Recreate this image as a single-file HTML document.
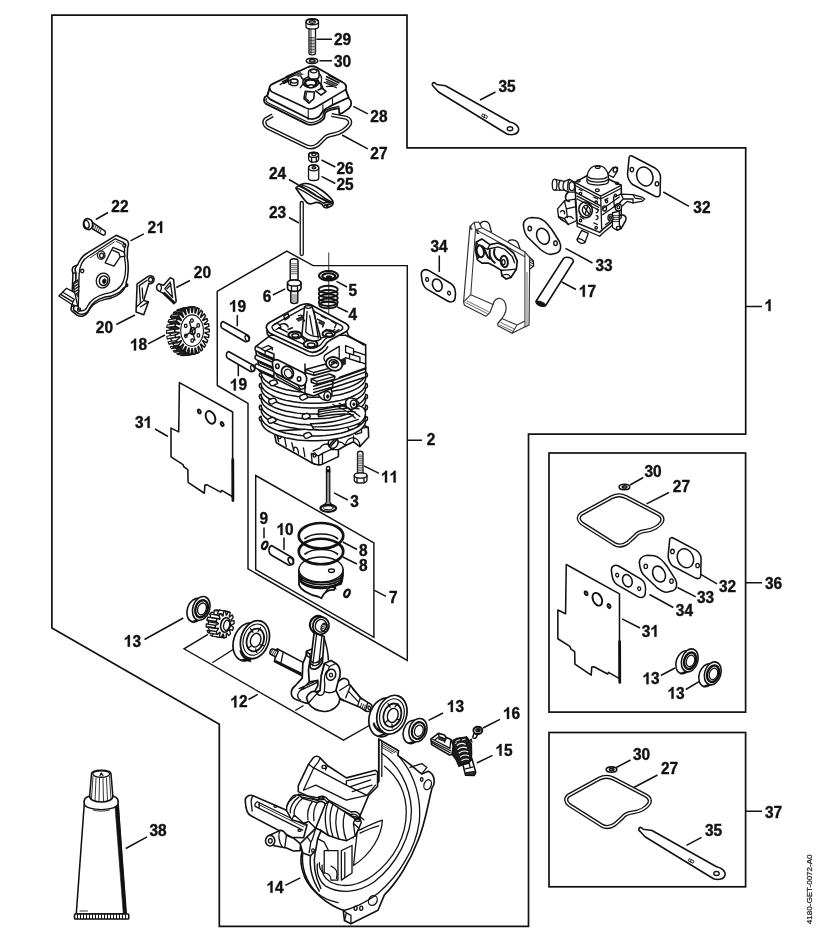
<!DOCTYPE html>
<html><head><meta charset="utf-8"><title>Parts diagram</title>
<style>
html,body{margin:0;padding:0;background:#fff;}
svg{display:block;filter:grayscale(1);}
.f{fill:none;stroke:#111;stroke-width:1.7;stroke-linejoin:miter;}
.l{fill:none;stroke:#111;stroke-width:1.5;stroke-linecap:butt;}
.t{fill:none;stroke:#222;stroke-width:0.9;}
.p{fill:none;stroke:#111;stroke-width:1.3;stroke-linejoin:round;stroke-linecap:round;}
.pw{fill:#fff;stroke:#111;stroke-width:1.3;stroke-linejoin:round;stroke-linecap:round;}
.pb{fill:#111;stroke:#111;stroke-width:0.8;stroke-linejoin:round;}
#parts *{vector-effect:non-scaling-stroke;}
.h{fill:none;stroke:#111;stroke-width:0.85;stroke-linejoin:round;stroke-linecap:round;}
.g{fill:none;stroke:#777;stroke-width:0.7;}
text{font-family:"Liberation Sans",sans-serif;font-weight:bold;font-size:16.2px;fill:#111;stroke:#111;stroke-width:0.4px;}
text.s{stroke:#222;stroke-width:0.25px;font-weight:normal;font-size:8px;fill:#222;}
</style></head><body>
<svg width="816" height="928" viewBox="0 0 816 928">
<rect width="816" height="928" fill="#fff"/>
<!-- FRAMES -->
<g id="frames">
<path class="f" d="M51.9,15.2 H407 V147.8 H745.7 V434.2 H528.5 V926.3 H219.3 V724.3 L51.9,628.1 Z"/>
<path class="f" style="stroke-width:1.45" d="M217.2,291.3 L286.8,251.2 L313.1,265.6 H407.3 V660.4 L248,568.9 V403.3 L217.3,385.5 Z"/>
<path class="f" style="stroke-width:1.45" d="M255.7,475.5 L373.9,542.8 V637.3 L255.7,569.6 Z"/>
<rect class="f" x="549" y="453" width="196.6" height="259.1"/>
<rect class="f" x="549" y="732.5" width="196.6" height="154.3"/>
<path class="l" d="M746,306.5 H762 M407,440.3 H422 M374.5,590.3 L386,596.3 M746,582.7 H762 M746,811.2 H762"/>
</g>
<!-- LEADERS -->
<g id="leaders" class="l">
<path d="M316.5,39.3 H332 M319.5,60.8 H332 M353.3,106.3 L367.8,113.8 M342,135 L367.8,148.8 M321.5,160 L335.3,167 M321.5,176.3 L335.3,183.5 M289,179.5 L298.5,185 M289,217.5 L299,223"/>
<path d="M95.8,219.5 L108,212.5 M130.5,240.8 L143.8,233.8 M176.3,287.5 L190,280.5 M116.3,324.5 L135,315 M148,343.8 L165,335"/>
<path d="M272.8,295 L285.3,288.8 M336.5,281.3 L347,287 M337.3,307 L347.8,312 M237.3,315 V326.3 M238.3,364.5 V376.3"/>
<path d="M480,100 L495.5,92 M663.3,192 L689,206.3 M565.5,248.3 L592.5,263 M561.8,282 L576,289.5 M439.3,255.5 V272"/>
<path d="M155,429 L168,436.5 M364,465.8 L379,473.3 M334,492.8 L347.8,500 M264,527.5 V538.3 M284,537.5 V550 M342.8,542 L357,549.5 M342.8,557 L357,564"/>
<path d="M144.5,639.5 L183.3,618 M248.5,699.5 L257.8,694.3 M285.3,885.3 L300.3,877.8 M428.5,720.3 L443,713 M483,728 L500,719.3 M476.8,763 L492.5,755.3 M125.8,848.5 L147,836.8"/>
<path d="M630,485 L643.3,477.5 M646.5,503.8 L669,492.5 M700.8,574.3 L717,583.8 M677.5,587.5 L695.8,596.8 M649.5,594.5 L673.3,607.5"/>
<path d="M622,618.8 L640,628 M660.8,675.5 L675,668 M685.8,689.5 L699.5,681.3 M616.3,767.5 L630.5,760 M633.8,787.5 L657.5,775 M686.5,845.3 L701.5,837.3"/>
</g>
<!-- LABELS -->
<g id="labels">
<text transform="translate(334,45.4) scale(.955,1)">29</text><text transform="translate(334,67.4) scale(.955,1)">30</text><text transform="translate(370.3,122.4) scale(.955,1)">28</text><text transform="translate(370.3,159.2) scale(.955,1)">27</text>
<text transform="translate(336.5,173.7) scale(.955,1)">26</text><text transform="translate(336.5,189.7) scale(.955,1)">25</text><text transform="translate(269,179.2) scale(.955,1)">24</text><text transform="translate(269,217.9) scale(.955,1)">23</text>
<text transform="translate(111.3,211.7) scale(.955,1)">22</text><g transform="translate(147.5,232.9) scale(.955,1)"><text x="0.00" y="0">2</text><path transform="translate(9.01,0) scale(0.01620,-0.01620)" d="M393 0 H255 V518 Q176 443 68 407 V532 Q125 551 192 603 Q259 655 284 724 H393 Z" style="fill:#111;stroke:#111;stroke-width:18"/></g><text transform="translate(193.8,278.4) scale(.955,1)">20</text><text transform="translate(95.8,332.9) scale(.955,1)">20</text><g transform="translate(130,350.4) scale(.955,1)"><path transform="translate(0.00,0) scale(0.01620,-0.01620)" d="M393 0 H255 V518 Q176 443 68 407 V532 Q125 551 192 603 Q259 655 284 724 H393 Z" style="fill:#111;stroke:#111;stroke-width:18"/><text x="9.01" y="0">8</text></g>
<text transform="translate(262.8,301.7) scale(.955,1)">6</text><text transform="translate(348.5,295.5) scale(.955,1)">5</text><text transform="translate(348.5,319.8) scale(.955,1)">4</text><g transform="translate(229,311.7) scale(.955,1)"><path transform="translate(0.00,0) scale(0.01620,-0.01620)" d="M393 0 H255 V518 Q176 443 68 407 V532 Q125 551 192 603 Q259 655 284 724 H393 Z" style="fill:#111;stroke:#111;stroke-width:18"/><text x="9.01" y="0">9</text></g><g transform="translate(229.8,390.4) scale(.955,1)"><path transform="translate(0.00,0) scale(0.01620,-0.01620)" d="M393 0 H255 V518 Q176 443 68 407 V532 Q125 551 192 603 Q259 655 284 724 H393 Z" style="fill:#111;stroke:#111;stroke-width:18"/><text x="9.01" y="0">9</text></g>
<text transform="translate(498.5,91.7) scale(.955,1)">35</text><text transform="translate(693.3,212.9) scale(.955,1)">32</text><g transform="translate(764.5,311.1) scale(.955,1)"><path transform="translate(0.00,0) scale(0.01620,-0.01620)" d="M393 0 H255 V518 Q176 443 68 407 V532 Q125 551 192 603 Q259 655 284 724 H393 Z" style="fill:#111;stroke:#111;stroke-width:18"/></g><text transform="translate(595.5,270.9) scale(.955,1)">33</text><g transform="translate(578.8,296.7) scale(.955,1)"><path transform="translate(0.00,0) scale(0.01620,-0.01620)" d="M393 0 H255 V518 Q176 443 68 407 V532 Q125 551 192 603 Q259 655 284 724 H393 Z" style="fill:#111;stroke:#111;stroke-width:18"/><text x="9.01" y="0">7</text></g><text transform="translate(430.5,251.7) scale(.955,1)">34</text>
<g transform="translate(135,427.9) scale(.955,1)"><text x="0.00" y="0">3</text><path transform="translate(9.01,0) scale(0.01620,-0.01620)" d="M393 0 H255 V518 Q176 443 68 407 V532 Q125 551 192 603 Q259 655 284 724 H393 Z" style="fill:#111;stroke:#111;stroke-width:18"/></g><g transform="translate(381,482.4) scale(.955,1)"><path transform="translate(0.00,0) scale(0.01620,-0.01620)" d="M393 0 H255 V518 Q176 443 68 407 V532 Q125 551 192 603 Q259 655 284 724 H393 Z" style="fill:#111;stroke:#111;stroke-width:18"/><path transform="translate(9.01,0) scale(0.01620,-0.01620)" d="M393 0 H255 V518 Q176 443 68 407 V532 Q125 551 192 603 Q259 655 284 724 H393 Z" style="fill:#111;stroke:#111;stroke-width:18"/></g><text transform="translate(350.3,506.9) scale(.955,1)">3</text><text transform="translate(259.5,524.4) scale(.955,1)">9</text><g transform="translate(276.5,534.9) scale(.955,1)"><path transform="translate(0.00,0) scale(0.01620,-0.01620)" d="M393 0 H255 V518 Q176 443 68 407 V532 Q125 551 192 603 Q259 655 284 724 H393 Z" style="fill:#111;stroke:#111;stroke-width:18"/><text x="9.01" y="0">0</text></g><text transform="translate(359,556.2) scale(.955,1)">8</text><text transform="translate(359,570.7) scale(.955,1)">8</text><text transform="translate(389,602.9) scale(.955,1)">7</text>
<text transform="translate(426.8,444.7) scale(.955,1)">2</text>
<g transform="translate(123.8,646.7) scale(.955,1)"><path transform="translate(0.00,0) scale(0.01620,-0.01620)" d="M393 0 H255 V518 Q176 443 68 407 V532 Q125 551 192 603 Q259 655 284 724 H393 Z" style="fill:#111;stroke:#111;stroke-width:18"/><text x="9.01" y="0">3</text></g><g transform="translate(230.3,707.4) scale(.955,1)"><path transform="translate(0.00,0) scale(0.01620,-0.01620)" d="M393 0 H255 V518 Q176 443 68 407 V532 Q125 551 192 603 Q259 655 284 724 H393 Z" style="fill:#111;stroke:#111;stroke-width:18"/><text x="9.01" y="0">2</text></g><g transform="translate(266.5,892.7) scale(.955,1)"><path transform="translate(0.00,0) scale(0.01620,-0.01620)" d="M393 0 H255 V518 Q176 443 68 407 V532 Q125 551 192 603 Q259 655 284 724 H393 Z" style="fill:#111;stroke:#111;stroke-width:18"/><text x="9.01" y="0">4</text></g><g transform="translate(446.8,711.9) scale(.955,1)"><path transform="translate(0.00,0) scale(0.01620,-0.01620)" d="M393 0 H255 V518 Q176 443 68 407 V532 Q125 551 192 603 Q259 655 284 724 H393 Z" style="fill:#111;stroke:#111;stroke-width:18"/><text x="9.01" y="0">3</text></g><g transform="translate(503,718.9) scale(.955,1)"><path transform="translate(0.00,0) scale(0.01620,-0.01620)" d="M393 0 H255 V518 Q176 443 68 407 V532 Q125 551 192 603 Q259 655 284 724 H393 Z" style="fill:#111;stroke:#111;stroke-width:18"/><text x="9.01" y="0">6</text></g><g transform="translate(495.5,755.7) scale(.955,1)"><path transform="translate(0.00,0) scale(0.01620,-0.01620)" d="M393 0 H255 V518 Q176 443 68 407 V532 Q125 551 192 603 Q259 655 284 724 H393 Z" style="fill:#111;stroke:#111;stroke-width:18"/><text x="9.01" y="0">5</text></g><text transform="translate(149.5,835.7) scale(.955,1)">38</text>
<text transform="translate(644.5,476.7) scale(.955,1)">30</text><text transform="translate(672.8,491.7) scale(.955,1)">27</text><text transform="translate(719,591.7) scale(.955,1)">32</text><text transform="translate(697,603.4) scale(.955,1)">33</text><text transform="translate(675.8,615.9) scale(.955,1)">34</text><text transform="translate(765,589.3) scale(.955,1)">36</text>
<g transform="translate(641.8,636.7) scale(.955,1)"><text x="0.00" y="0">3</text><path transform="translate(9.01,0) scale(0.01620,-0.01620)" d="M393 0 H255 V518 Q176 443 68 407 V532 Q125 551 192 603 Q259 655 284 724 H393 Z" style="fill:#111;stroke:#111;stroke-width:18"/></g><g transform="translate(642.5,684.2) scale(.955,1)"><path transform="translate(0.00,0) scale(0.01620,-0.01620)" d="M393 0 H255 V518 Q176 443 68 407 V532 Q125 551 192 603 Q259 655 284 724 H393 Z" style="fill:#111;stroke:#111;stroke-width:18"/><text x="9.01" y="0">3</text></g><g transform="translate(667.5,698.7) scale(.955,1)"><path transform="translate(0.00,0) scale(0.01620,-0.01620)" d="M393 0 H255 V518 Q176 443 68 407 V532 Q125 551 192 603 Q259 655 284 724 H393 Z" style="fill:#111;stroke:#111;stroke-width:18"/><text x="9.01" y="0">3</text></g><text transform="translate(633,759.9) scale(.955,1)">30</text><text transform="translate(661,774.4) scale(.955,1)">27</text><text transform="translate(705,835.9) scale(.955,1)">35</text><text transform="translate(765,818) scale(.955,1)">37</text>
<text class="s" transform="translate(812.2,924.2) rotate(-90)" textLength="69.8" lengthAdjust="spacingAndGlyphs">4180-GET-0072-A0</text>
</g>
<!-- PARTS -->
<g id="parts">
<!--PARTS_BEGIN-->
<g transform="translate(560,460) scale(0.2206)">
<path class="p" style="stroke-width:4.2" d="M95,245 C80,258 82,275 100,288 L245,380 C265,392 290,388 310,372 L340,345 C350,330 365,325 385,322 C420,318 450,300 462,280 C468,265 460,252 445,244 L300,168 C280,158 255,158 235,168 Z"/>
<path style="fill:none;stroke:#fff;stroke-width:1.5" d="M95,245 C80,258 82,275 100,288 L245,380 C265,392 290,388 310,372 L340,345 C350,330 365,325 385,322 C420,318 450,300 462,280 C468,265 460,252 445,244 L300,168 C280,158 255,158 235,168 Z"/>

</g>
<g transform="translate(-12.6,281.5)"><g transform="translate(560,460) scale(0.2206)">
<path class="p" style="stroke-width:4.2" d="M95,245 C80,258 82,275 100,288 L245,380 C265,392 290,388 310,372 L340,345 C350,330 365,325 385,322 C420,318 450,300 462,280 C468,265 460,252 445,244 L300,168 C280,158 255,158 235,168 Z"/>
<path style="fill:none;stroke:#fff;stroke-width:1.5" d="M95,245 C80,258 82,275 100,288 L245,380 C265,392 290,388 310,372 L340,345 C350,330 365,325 385,322 C420,318 450,300 462,280 C468,265 460,252 445,244 L300,168 C280,158 255,158 235,168 Z"/>

</g></g>
<g transform="translate(258,62) scale(0.12255)">
<!-- main gasket 27 -->
<path class="p" style="stroke-width:4.2;stroke-linecap:butt" d="M120,435 L62,468 C42,488 52,520 80,535 L400,690 C430,702 462,696 490,675 L545,620 C560,600 590,595 620,590 C670,585 730,540 750,505 C757,480 742,465 720,455 L600,432"/>
<path style="fill:none;stroke:#fff;stroke-width:1.5" d="M120,435 L62,468 C42,488 52,520 80,535 L400,690 C430,702 462,696 490,675 L545,620 C560,600 590,595 620,590 C670,585 730,540 750,505 C757,480 742,465 720,455 L600,432"/>
<!-- flange -->
<path class="pw" style="stroke-width:1.8" d="M75,275 C45,285 40,320 62,340 L395,505 C430,520 470,510 505,490 L540,462 L548,415 C560,400 580,392 600,388 L660,376 L664,425 L690,415 L745,375 C768,350 765,315 740,295 L715,225 L440,40 L95,215 Z"/>
<path class="p" style="stroke-width:1.2" d="M70,300 C60,310 64,322 78,330 L398,488 C430,500 465,492 495,475 L528,450 L536,408 C550,392 572,382 596,376 L660,362"/>
<!-- body -->
<path class="pw" style="stroke-width:1.8" d="M95,215 C90,200 100,190 120,178 L400,45 C425,32 455,32 480,45 L690,165 C720,180 725,205 715,225 L740,290 L610,350 L560,378 L530,400 L500,445 C470,466 430,470 400,455 L100,305 L75,280 Z"/>
<path class="p" style="stroke-width:1.6" d="M95,215 C97,228 102,238 115,245 L385,372 C415,388 450,385 480,365 L715,225"/>
<path class="h" style="stroke-width:1.1" d="M410,388 V470 M530,350 V400 M608,300 V350"/>
<!-- top details -->
<path class="p" d="M230,120 L330,75 M245,132 L345,88 M240,135 L255,185 M180,185 L240,150 M555,140 L650,185 M540,165 L640,210 M345,210 L370,175 M560,200 L640,190"/>
<path class="pb" style="fill:#555;stroke:none" d="M300,105 L345,85 L375,100 L330,122 Z"/>
<path class="pw" d="M265,155 C265,135 325,135 325,155 V180 C325,198 265,198 265,180 Z"/><ellipse class="p" cx="295" cy="155" rx="30" ry="17"/>
<ellipse class="pw" style="stroke-width:1.5" cx="430" cy="165" rx="64" ry="44"/>
<ellipse class="p" style="stroke-width:2.6" cx="430" cy="172" rx="46" ry="30"/>
<ellipse class="pw" style="stroke-width:1.5" cx="432" cy="198" rx="22" ry="13"/>
<path class="pw" style="stroke-width:1.5" d="M412,82 C412,52 498,52 498,82 V118 C498,146 412,146 412,118 Z"/><ellipse class="p" cx="455" cy="74" rx="27" ry="15"/>
<path class="p" d="M498,95 C515,105 522,140 515,175 L530,215"/>
<path class="pw" style="stroke-width:1.6" d="M385,240 L375,300 L415,335 L455,300 L460,245 Z"/>
<path class="pw" style="stroke-width:1.6" d="M470,235 L515,270 L555,240 L525,215 L490,228"/>
<path class="p" d="M395,255 L388,296 L415,318"/>
<path class="p" style="stroke-width:1.6" d="M200,160 L250,138 M210,175 L260,150 M560,120 L660,170 M580,110 L680,160 M350,120 C360,140 380,150 400,150 M470,150 C500,160 520,185 515,215"/>
<path class="pb" style="fill:#444;stroke:none" d="M560,150 L640,188 L630,200 L552,165 Z"/>

</g>
<g transform="translate(204,0) scale(0.25)">
<!-- bolt 29 -->
<path class="pw" d="M420,108 V212 C420,222 446,222 446,212 V108 Z"/>
<path class="h" style="stroke:#555" d="M421,150 H445 M421,156 H445 M421,162 H445 M421,168 H445 M421,174 H445 M421,180 H445 M421,186 H445 M421,192 H445 M421,198 H445 M421,204 H445 M421,210 H445"/>
<path class="h" d="M428,112 V214"/>
<path class="pw" d="M408,88 C408,70 458,70 458,88 V106 C458,120 408,120 408,106 Z"/>
<ellipse class="p" cx="433" cy="88" rx="25" ry="11"/><ellipse class="p" cx="433" cy="88" rx="12" ry="5"/>
<!-- washer 30 -->
<ellipse class="pw" style="stroke-width:1.5" cx="432" cy="243" rx="23" ry="10.5"/><ellipse class="p" style="stroke-width:1.5" cx="433" cy="243" rx="11" ry="5"/>

</g>
<g transform="translate(255,60) scale(0.13481)">
<!-- nut 26 -->
<path class="pw" d="M398,705 C398,680 472,680 472,705 V735 C472,765 398,765 398,735 Z"/>
<ellipse class="p" cx="435" cy="703" rx="36" ry="20"/><ellipse class="p" cx="437" cy="700" rx="16" ry="9"/>
<path class="p" d="M420,722 V758 M455,720 V755"/>
<!-- sleeve 25 -->
<path class="pw" d="M397,800 C397,772 473,772 473,800 V875 C473,900 397,900 397,875 Z"/>
<ellipse class="p" cx="435" cy="800" rx="38" ry="22"/><ellipse class="p" cx="437" cy="800" rx="14" ry="8"/>

</g>
<g transform="translate(204,180) scale(0.25)">
<!-- pushrod 23 -->
<path class="pw" d="M385,92 C385,84 397,84 397,92 V296 C397,304 385,304 385,296 Z"/>
<!-- center thin line -->
<path class="g" style="stroke:#333;stroke-width:1" d="M499,290 V660"/>
<!-- stud 6 -->
<path class="pw" style="stroke-width:1.5" d="M345,324 C345,312 376,312 376,324 V400 H345 Z"/>
<path class="pw" style="stroke-width:1.5" d="M347,440 V486 C347,496 375,496 375,486 V440 Z"/>
<path class="pw" style="stroke-width:1.7" d="M334,412 C334,396 388,396 388,412 V432 C388,450 334,450 334,432 Z"/>
<path class="p" d="M334,412 C334,428 388,428 388,412 M350,424 V446 M374,424 V446"/>
<path class="h" style="stroke:#444" d="M346,335 H375 M346,343 H375 M346,351 H375 M346,359 H375 M346,367 H375 M346,375 H375 M348,460 H374 M348,468 H374 M348,476 H374 M348,484 H374"/>
<!-- retainer 5 -->
<ellipse class="pw" style="stroke-width:2" cx="498" cy="383" rx="38" ry="19"/>
<ellipse class="p" style="stroke-width:2.2" cx="499" cy="385" rx="26" ry="12"/>
<ellipse class="pb" cx="500" cy="388" rx="12" ry="5"/>
<!-- spring 4 -->
<g class="p" style="stroke-width:1.8">
<ellipse cx="497" cy="438" rx="38" ry="15"/><ellipse cx="497" cy="455" rx="38" ry="15"/><ellipse cx="497" cy="472" rx="38" ry="15"/><ellipse cx="497" cy="489" rx="38" ry="15"/><ellipse cx="497" cy="500" rx="36" ry="13"/>
</g>
<!-- pins 19 -->
<path class="pw" style="stroke-width:1.5" d="M76,566 C64,571 64,591 78,596 L164,646 C178,652 188,630 177,622 Z"/><ellipse class="p" cx="171" cy="634" rx="7" ry="12" transform="rotate(-25 171 631)"/>
<path class="pw" style="stroke-width:1.5" d="M98,686 C86,691 86,711 100,716 L186,766 C200,772 210,750 199,742 Z"/><ellipse class="p" cx="193" cy="754" rx="7" ry="12" transform="rotate(-25 193 751)"/>

</g>
<g transform="translate(280,170) scale(0.085786)">
<path class="pw" style="stroke-width:1.7" d="M185,210 C200,190 230,175 270,160 C320,150 380,170 430,200 C500,240 580,310 615,360 C625,390 615,420 585,425 C560,440 530,445 510,430 L490,400 C470,385 440,375 410,380 C380,395 350,405 320,385 C280,350 240,290 185,210 Z"/>
<path class="p" style="stroke-width:2" d="M228,186 C300,215 360,260 420,300 C470,330 520,350 562,372"/>
<path class="p" d="M200,212 C270,240 330,280 390,320 C430,345 470,365 505,385 M250,172 C320,190 400,230 470,290 C520,330 570,360 600,372"/>
<path class="p" style="stroke-width:1.8" d="M505,385 L562,372 L600,376 M545,438 L560,400 L600,392 M520,412 L560,400"/>


</g>
<g transform="translate(250,340) scale(0.15931)">
<path class="pw" style="stroke-width:1.6" d="M150,572 L165,645 L390,772 C410,785 440,787 455,779 L555,732 L555,689 L600,662 L650,639 L690,669 L745,609 L742,549 L700,527 L600,527 L400,557 Z"/>
<path class="p" d="M165,582 L180,639 M215,607 L228,669 M262,645 L275,695 M275,695 C270,662 300,662 305,712 M335,677 L345,732 M385,712 L390,772 M385,712 L430,727 L455,712 L455,779 M430,727 L432,782"/>
<path class="p" d="M455,712 L510,687 L555,689 M510,687 C505,647 560,617 600,662 M600,662 C600,602 690,592 690,669 M650,639 L650,602 M600,527 L620,562 L742,549 M620,562 L622,602 M660,559 L662,592 L700,582 L700,555"/>
<ellipse class="p" cx="690" cy="537" rx="12" ry="9"/><ellipse class="p" cx="405" cy="722" rx="9" ry="13"/><ellipse class="p" cx="185" cy="605" rx="10" ry="14"/>
<ellipse class="pw" style="stroke-width:1.5" cx="522" cy="645" rx="30" ry="36" transform="rotate(25 522 645)"/><path class="p" style="stroke-width:1.6" d="M505,669 L545,625 M498,659 L538,615"/>
<path class="p" d="M440,677 C450,657 480,647 495,657 M395,697 L440,677"/>
<path class="pw" style="stroke-width:1.5" d="M70,478 L71,488 L74,498 L79,507 L86,517 L95,526 L106,535 L118,543 L133,551 L149,559 L166,566 L185,573 L205,579 L227,585 L249,589 L272,593 L297,597 L321,600 L347,601 L372,603 L398,603 L424,603 L449,601 L475,600 L499,597 L524,593 L547,589 L569,585 L591,579 L611,573 L630,566 L647,559 L663,551 L678,543 L690,535 L701,526 L710,517 L717,507 L722,498 L725,488 L726,478 C742,482 742,504 726,508 L725,518 L722,528 L717,537 L710,547 L701,556 L690,565 L678,573 L663,581 L647,589 L630,596 L611,603 L591,609 L569,615 L547,619 L524,623 L499,627 L475,630 L449,631 L424,633 L398,633 L372,633 L347,631 L321,630 L297,627 L272,623 L249,619 L227,615 L205,609 L185,603 L166,596 L149,589 L133,581 L118,573 L106,565 L95,556 L86,547 L79,537 L74,528 L71,518 L70,508 C54,504 54,482 70,478 Z"/>
<path class="pw" style="stroke-width:1.5" d="M70,408 L71,418 L74,428 L79,437 L86,447 L95,456 L106,465 L118,473 L133,481 L149,489 L166,496 L185,503 L205,509 L227,515 L249,519 L272,523 L297,527 L321,530 L347,531 L372,533 L398,533 L424,533 L449,531 L475,530 L499,527 L524,523 L547,519 L569,515 L591,509 L611,503 L630,496 L647,489 L663,481 L678,473 L690,465 L701,456 L710,447 L717,437 L722,428 L725,418 L726,408 C742,412 742,434 726,438 L725,448 L722,458 L717,467 L710,477 L701,486 L690,495 L678,503 L663,511 L647,519 L630,526 L611,533 L591,539 L569,545 L547,549 L524,553 L499,557 L475,560 L449,561 L424,563 L398,563 L372,563 L347,561 L321,560 L297,557 L272,553 L249,549 L227,545 L205,539 L185,533 L166,526 L149,519 L133,511 L118,503 L106,495 L95,486 L86,477 L79,467 L74,458 L71,448 L70,438 C54,434 54,412 70,408 Z"/>
<path class="pw" style="stroke-width:1.5" d="M70,340 L71,350 L74,360 L79,369 L86,379 L95,388 L106,397 L118,405 L133,413 L149,421 L166,428 L185,435 L205,441 L227,447 L249,451 L272,455 L297,459 L321,462 L347,463 L372,465 L398,465 L424,465 L449,463 L475,462 L499,459 L524,455 L547,451 L569,447 L591,441 L611,435 L630,428 L647,421 L663,413 L678,405 L690,397 L701,388 L710,379 L717,369 L722,360 L725,350 L726,340 C742,344 742,366 726,370 L725,380 L722,390 L717,399 L710,409 L701,418 L690,427 L678,435 L663,443 L647,451 L630,458 L611,465 L591,471 L569,477 L547,481 L524,485 L499,489 L475,492 L449,493 L424,495 L398,495 L372,495 L347,493 L321,492 L297,489 L272,485 L249,481 L227,477 L205,471 L185,465 L166,458 L149,451 L133,443 L118,435 L106,427 L95,418 L86,409 L79,399 L74,390 L71,380 L70,370 C54,366 54,344 70,340 Z"/>
<path class="pw" style="stroke-width:1.5" d="M70,272 L71,282 L74,292 L79,301 L86,311 L95,320 L106,329 L118,337 L133,345 L149,353 L166,360 L185,367 L205,373 L227,379 L249,383 L272,387 L297,391 L321,394 L347,395 L372,397 L398,397 L424,397 L449,395 L475,394 L499,391 L524,387 L547,383 L569,379 L591,373 L611,367 L630,360 L647,353 L663,345 L678,337 L690,329 L701,320 L710,311 L717,301 L722,292 L725,282 L726,272 C742,276 742,298 726,302 L725,312 L722,322 L717,331 L710,341 L701,350 L690,359 L678,367 L663,375 L647,383 L630,390 L611,397 L591,403 L569,409 L547,413 L524,417 L499,421 L475,424 L449,425 L424,427 L398,427 L372,427 L347,425 L321,424 L297,421 L272,417 L249,413 L227,409 L205,403 L185,397 L166,390 L149,383 L133,375 L118,367 L106,359 L95,350 L86,341 L79,331 L74,322 L71,312 L70,302 C54,298 54,276 70,272 Z"/>
<path class="pw" style="stroke-width:1.5" d="M70,205 L71,215 L74,225 L79,234 L86,244 L95,253 L106,262 L118,270 L133,278 L149,286 L166,293 L185,300 L205,306 L227,312 L249,316 L272,320 L297,324 L321,327 L347,328 L372,330 L398,330 L424,330 L449,328 L475,327 L499,324 L524,320 L547,316 L569,312 L591,306 L611,300 L630,293 L647,286 L663,278 L678,270 L690,262 L701,253 L710,244 L717,234 L722,225 L725,215 L726,205 C742,209 742,231 726,235 L725,245 L722,255 L717,264 L710,274 L701,283 L690,292 L678,300 L663,308 L647,316 L630,323 L611,330 L591,336 L569,342 L547,346 L524,350 L499,354 L475,357 L449,358 L424,360 L398,360 L372,360 L347,358 L321,357 L297,354 L272,350 L249,346 L227,342 L205,336 L185,330 L166,323 L149,316 L133,308 L118,300 L106,292 L95,283 L86,274 L79,264 L74,255 L71,245 L70,235 C54,231 54,209 70,205 Z"/>
<path class="pw" style="stroke-width:1.4" d="M124,260 C118,276 130,292 146,286 L174,272 C170,258 160,250 150,250 Z"/>
<path class="pw" style="stroke-width:1.4" d="M314,350 C308,366 320,382 336,376 L364,362 C360,348 350,340 340,340 Z"/>
<path class="pw" style="stroke-width:1.4" d="M119,375 C113,391 125,407 141,401 L169,387 C165,373 155,365 145,365 Z"/>
<path class="pw" style="stroke-width:1.4" d="M329,470 C323,486 335,502 351,496 L379,482 C375,468 365,460 355,460 Z"/>
<path class="pw" style="stroke-width:1.4" d="M114,495 C108,511 120,527 136,521 L164,507 C160,493 150,485 140,485 Z"/>
<path class="pw" style="stroke-width:1.4" d="M339,590 C333,606 345,622 361,616 L389,602 C385,588 375,580 365,580 Z"/>
<path class="pw" style="stroke-width:1.5" d="M430,440 C500,425 600,400 690,415 C740,430 735,500 680,525 C600,560 480,575 400,560 L380,525 C470,528 590,505 650,470 C590,458 500,470 430,482 Z"/>
<path class="p" d="M430,452 C510,438 610,415 685,432 M425,468 C500,452 595,440 660,452 M395,545 C490,550 600,528 680,498 M560,398 C600,420 640,440 690,480 M520,405 C570,425 620,450 660,490"/>
<path class="pw" style="stroke-width:1.5" d="M405,318 L470,296 C505,290 522,318 512,348 L500,368 C482,382 455,378 445,364 Z"/><ellipse class="pw" style="stroke-width:1.5" cx="486" cy="352" rx="22" ry="28"/><ellipse class="pb" cx="488" cy="354" rx="8" ry="11"/>
<path class="pw" style="stroke-width:1.5" d="M600,385 L622,362 L660,368 L682,395 L668,428 L630,436 L604,418 Z"/><ellipse class="pw" style="stroke-width:1.5" cx="650" cy="402" rx="20" ry="26"/><ellipse class="pb" cx="652" cy="404" rx="7" ry="9"/>
<path class="pw" style="stroke-width:1.6" d="M35,42 L38,80 L62,188 L140,232 L345,335 L400,352 L520,300 L726,232 L726,30 L600,-30 L130,-30 Z"/>
<path class="pw" style="stroke-width:1.5" d="M40,40 C28,46 28,64 42,70 L150,118 L150,88 Z"/>
<path class="pb" d="M48,74 L150,120 L150,130 L60,90 Z"/>
<path class="pw" style="stroke-width:1.5" d="M40,95 C28,101 28,119 42,125 L150,173 L150,143 Z"/>
<path class="pb" d="M48,129 L150,175 L150,185 L60,145 Z"/>
<path class="pw" style="stroke-width:1.5" d="M40,150 C28,156 28,174 42,180 L150,228 L150,198 Z"/>
<path class="pb" d="M48,184 L150,230 L150,240 L60,200 Z"/>
<path class="pw" d="M70,55 L115,35 L140,48 L95,70 Z"/><path class="p" d="M95,70 V85 M140,48 V62"/>
<path class="pw" style="stroke-width:1.6" d="M350,185 L470,152 L522,172 L520,190 L400,222 L350,205 Z"/><path class="p" d="M350,185 L400,204 L522,172 M400,204 V222"/>
<path class="pw" style="stroke-width:1.6" d="M385,245 L500,214 L532,228 L530,246 L420,278 L385,265 Z"/><path class="p" d="M385,245 L420,260 L532,228 M420,260 V278"/>
<path class="p" style="stroke-width:1.5" d="M345,150 L345,335 M400,290 L520,255 L726,180 M400,310 L520,275 L726,200 M400,330 L520,295 M560,235 L726,175 M520,300 V255"/>
<path class="p" d="M560,40 V130 M600,35 L650,55 L650,95 L600,78 Z M625,85 L690,108 L690,140 L625,118 Z M600,110 L726,150 M726,95 L650,70"/>
<path class="pb" d="M560,130 L600,110 L600,150 L560,170 Z" style="fill:#222"/>
<ellipse class="pw" style="stroke-width:1.8" cx="528" cy="150" rx="52" ry="42" transform="rotate(18 528 150)"/><ellipse class="pw" style="stroke-width:1.5" cx="526" cy="148" rx="30" ry="24" transform="rotate(18 526 148)"/><path class="p" style="stroke-width:1.5" d="M505,160 L545,136 M512,142 C522,132 538,135 544,148"/>
<path class="p" d="M470,95 C460,110 462,130 478,140 M470,95 L510,70 L560,40"/>
<path class="pw" style="stroke-width:1.7" d="M142,150 C134,130 155,116 182,128 L335,205 C358,218 362,252 348,274 C340,288 318,292 300,282 L160,208 C144,198 142,172 142,150 Z"/>
<path class="p" d="M300,282 L318,312 L348,300 L348,274 M160,208 L172,230 L318,312"/>
<ellipse class="pw" style="stroke-width:1.8" cx="235" cy="205" rx="36" ry="42" transform="rotate(-30 235 205)"/><ellipse class="p" cx="240" cy="210" rx="22" ry="28" transform="rotate(-30 240 210)"/>
<ellipse class="p" style="stroke-width:1.5" cx="172" cy="165" rx="11" ry="14"/><ellipse class="p" style="stroke-width:1.5" cx="308" cy="245" rx="11" ry="14"/>

</g>
<g transform="translate(245,295) scale(0.17241)">
<path class="pw" style="stroke-width:1.7" d="M128,200 C118,185 125,170 145,158 L320,60 C345,48 365,48 385,58 L585,165 C605,178 608,195 590,210 L500,258 C480,268 470,280 462,295 C440,325 400,340 370,328 L145,222 C135,216 130,208 128,200 Z"/>
<path class="p" style="stroke-width:1.5" d="M128,200 V225 L145,245 L365,350 C400,362 445,345 468,318 L480,300 M590,210 L600,235 L690,290"/>
<path class="pw" style="stroke-width:1.4" d="M160,195 C152,185 158,178 170,170 L330,82 C345,74 360,74 375,82 L555,175 C570,185 572,195 558,204 L480,245 C462,255 452,268 445,280 C430,302 400,312 375,302 L175,210 C165,205 162,200 160,195 Z"/>
<path class="p" d="M225,122 L250,108 L256,130 L232,145 Z M170,172 C180,160 200,165 205,180 M310,120 C330,112 345,120 340,135 M440,120 L470,138 M500,150 L530,168 L520,190 M180,200 L210,185 M520,215 L545,200"/>
<ellipse class="pw" style="stroke-width:2.2" cx="290" cy="232" rx="38" ry="20"/><ellipse class="p" style="stroke-width:1.5" cx="292" cy="235" rx="20" ry="10"/>
<ellipse class="pw" style="stroke-width:2" cx="380" cy="285" rx="40" ry="22"/><ellipse class="p" style="stroke-width:1.5" cx="384" cy="290" rx="22" ry="12"/>
<ellipse class="pw" style="stroke-width:2" cx="485" cy="225" rx="36" ry="20"/><ellipse class="p" style="stroke-width:1.5" cx="488" cy="230" rx="20" ry="10"/>
<path class="pw" style="stroke-width:1.5" d="M345,68 C350,58 385,58 390,68 L440,255 C420,275 360,270 330,235 Z"/>
<path class="p" d="M360,95 L352,215 M400,90 L425,250 M352,215 C370,235 410,245 430,240 M345,70 C355,80 380,80 390,70 M375,120 L395,230"/>
<path class="p" style="stroke-width:1.5" d="M200,175 C215,160 245,165 250,185 M195,190 L245,215 M300,140 L330,125 L345,150 M420,140 L460,160 L450,185 M520,200 L500,215 L470,200 M250,200 L275,190 M440,250 L470,240 M330,245 L345,262"/>
<path class="pb" style="fill:#333;stroke:none" d="M300,142 L330,127 L338,142 L308,157 Z M430,150 L458,164 L452,178 L424,164 Z"/>

</g>
<g transform="translate(204,372) scale(0.25)">
<!-- bolt 11 -->
<path class="pw" d="M614,326 C614,314 636,314 636,326 V412 H614 Z"/>
<path class="h" style="stroke:#444" d="M615,332 H635 M615,339 H635 M615,346 H635 M615,353 H635 M615,360 H635 M615,367 H635 M615,374 H635 M615,381 H635 M615,388 H635 M615,395 H635 M615,402 H635"/>
<path class="pw" d="M601,414 C601,400 652,400 652,414 V432 C652,448 601,448 601,432 Z"/>
<path class="p" d="M601,414 C601,428 652,428 652,414 M612,426 V444 M640,426 V444"/>
<!-- valve 3 -->
<path class="pw" d="M490,384 C490,376 503,376 503,384 V520 C505,530 520,534 528,542 C532,556 462,556 466,542 C474,534 488,530 490,520 Z"/>
<path class="p" d="M490,392 H503 M490,398 H503"/>
<ellipse class="pw" style="stroke-width:2.3" cx="497" cy="545" rx="31" ry="14"/><ellipse class="p" style="stroke-width:1" cx="497" cy="543" rx="20" ry="8"/>
<path class="h" d="M496,400 V522"/>
<!-- piston -->
<path class="pw" style="stroke-width:1.8" d="M380,790 V850 C385,870 420,892 455,898 L470,905 C480,880 500,870 520,872 L528,852 L548,848 C556,830 556,800 556,790 Z"/>
<ellipse class="pw" cx="468" cy="790" rx="88" ry="50"/>
<path class="p" style="stroke-width:1.5" d="M380,806 C390,850 540,860 556,806 M380,814 C390,858 540,868 556,814 M382,826 C395,866 535,876 554,826 M384,834 C398,872 530,882 552,834"/>
<ellipse class="p" cx="510" cy="795" rx="12" ry="7"/>
<path class="p" d="M488,880 C492,860 520,855 528,868 M500,850 C510,845 525,846 530,852"/>
<!-- rings 8 -->
<ellipse class="p" style="stroke-width:2.7" cx="468" cy="718" rx="89" ry="51"/>
<path class="p" style="stroke-width:1.7" d="M404,728 C432,704 506,704 534,728"/>
<ellipse class="p" style="stroke-width:2.7" cx="468" cy="655" rx="89" ry="51"/>
<path class="p" style="stroke-width:1.7" d="M404,666 C432,642 506,642 534,666"/>
<!-- pin 10 -->
<path class="pw" style="stroke-width:1.6" d="M270,694 C256,702 256,726 272,734 L338,772 C354,778 366,752 352,742 Z"/>
<ellipse class="p" style="stroke-width:1.5" cx="346" cy="757" rx="9" ry="15" transform="rotate(-28 345 754)"/>
<!-- clips 9 -->
<ellipse class="p" style="stroke-width:2.3" cx="243" cy="693" rx="9.5" ry="16" transform="rotate(28 243 693)"/>
<ellipse class="p" style="stroke-width:2.3" cx="572" cy="885" rx="9.5" ry="16" transform="rotate(28 572 885)"/>

</g>
<g transform="translate(50,200) scale(0.2206)">
<path class="pw" style="stroke-width:1.5" d="M184,96 L248,140 C256,148 248,164 238,158 L174,120 Z"/>
<path class="h" d="M200,112 L194,128 M208,117 L202,133 M216,122 L210,138 M224,128 L218,144 M232,133 L226,149"/>
<path class="pw" style="stroke-width:1.7" d="M158,90 C168,80 188,86 192,100 C196,116 190,132 178,134 L166,132 C152,128 146,104 158,90 Z"/>
<ellipse class="p" cx="166" cy="110" rx="11" ry="18" transform="rotate(-15 166 110)"/>
<path class="pw" style="stroke-width:1.5" d="M125,295 L110,300 C100,305 98,320 104,332 L98,482 C94,490 94,498 100,504 L122,522 C140,532 162,526 172,508 L180,490 L130,515 L110,500 L112,480 L118,330 Z"/>
<path class="p" d="M104,332 L118,330 M98,482 L112,480 M172,508 C182,488 205,462 245,452 C285,446 322,428 338,402 L335,397"/>
<path class="pw" style="stroke-width:1.55" d="M300,160 L345,180 C358,188 358,205 352,215 L350,260 C358,300 355,350 345,375 C352,385 346,396 335,397 C320,420 290,435 250,440 C215,450 190,470 180,490 C170,515 150,522 130,515 L110,500 C104,495 107,485 112,480 L118,330 C110,318 115,300 125,295 C135,270 150,250 170,240 Z"/>
<path class="p" d="M296,176 L332,192 C342,198 342,210 338,218 L338,262 C345,300 342,345 333,368 C322,400 290,418 248,426 C210,436 182,458 170,482 C162,500 150,506 136,500 L128,494 L132,336 C134,300 150,268 176,254 Z"/>
<path class="h" d="M300,188 L325,200 M182,262 L292,190"/>
<ellipse class="pw" cx="232" cy="250" rx="17" ry="19"/><ellipse class="p" cx="234" cy="252" rx="9" ry="11"/>
<path class="pw" d="M285,215 L335,235 L340,255 L318,258 L290,300 L250,285 Z"/><path class="p" d="M318,258 L312,240 L285,228"/>
<ellipse class="pw" cx="240" cy="365" rx="30" ry="34" transform="rotate(20 240 365)"/><ellipse class="pw" style="stroke-width:1.5" cx="243" cy="366" rx="19" ry="22" transform="rotate(20 243 366)"/><ellipse class="pb" cx="246" cy="368" rx="8" ry="11" transform="rotate(20 246 368)"/>
<ellipse class="p" cx="337" cy="206" rx="7" ry="8"/><ellipse class="p" cx="146" cy="322" rx="7" ry="8"/><ellipse class="p" cx="348" cy="386" rx="5" ry="6"/><ellipse class="p" cx="132" cy="497" rx="7" ry="8"/>
<path class="pw" d="M40,435 L75,400 L112,420 L126,482 L100,474 Z"/>
<path class="p" d="M48,428 L104,462 M58,418 L110,450 M100,474 L104,462 L110,450 M112,420 L116,380 M104,415 L108,378 M116,380 L128,372 M120,400 L132,392 M122,420 L132,412"/>
<path class="pb" d="M108,372 L128,360 L128,440 L112,420 Z" style="fill:#333"/>
<path style="stroke:#fff;stroke-width:1;fill:none" d="M110,385 L127,375 M111,398 L127,388 M112,410 L127,401 M114,422 L127,414"/>
<path class="pw" style="stroke-width:1.55" d="M395,380 L440,350 C450,338 472,343 472,360 C472,375 456,382 448,378 L425,455 L446,462 L425,520 L390,508 Z"/>
<path class="p" d="M405,388 L440,364 M405,388 L410,468 L425,455 M418,398 L421,448 M410,468 L392,485 M446,462 L410,485"/><ellipse class="p" cx="456" cy="361" rx="9" ry="10"/>
<path class="pw" style="stroke-width:1.55" d="M545,352 L560,360 L572,460 L562,470 L512,422 L492,412 C480,406 480,386 492,380 L515,386 Z"/>
<path class="p" d="M545,372 L520,402 L556,442 M545,372 L556,442 M530,402 L549,384 M500,384 C506,392 506,404 500,412"/>
<path class="pb" d="M512,422 L562,470 L566,462 L520,418 Z"/>
<ellipse class="pw" cx="606" cy="598" rx="62.4" ry="86.4"/>
<path class="pw" style="stroke-width:1.1" d="M675.7,690.7 L667.6,695.0 L629.6,701.0 L637.7,696.7 Z"/>
<path class="pb" style="fill:#222;stroke-width:0.5" d="M675.7,690.7 L637.7,696.7 L632.5,671.4 L670.5,665.4 Z"/>
<path class="pw" style="stroke-width:1.1" d="M667.6,489.0 L675.7,493.3 L637.7,499.3 L629.6,495.0 Z"/>
<path class="pb" style="fill:#222;stroke-width:0.5" d="M667.6,489.0 L629.6,495.0 L621.3,518.7 L659.3,512.7 Z"/>
<path class="pw" style="stroke-width:1.1" d="M649.1,484.2 L657.7,485.7 L619.7,491.7 L611.1,490.2 Z"/>
<path class="pb" style="fill:#222;stroke-width:0.5" d="M649.1,484.2 L611.1,490.2 L607.1,515.9 L645.1,509.9 Z"/>
<path class="pw" style="stroke-width:1.1" d="M657.7,698.3 L649.1,699.8 L611.1,705.8 L619.7,704.3 Z"/>
<path class="pb" style="fill:#222;stroke-width:0.5" d="M657.7,698.3 L619.7,704.3 L619.1,678.1 L657.1,672.1 Z"/>
<path class="pw" style="stroke-width:1.1" d="M638.9,699.8 L630.3,698.3 L592.3,704.3 L600.9,705.8 Z"/>
<path class="pb" style="fill:#222;stroke-width:0.5" d="M638.9,699.8 L600.9,705.8 L604.9,680.1 L642.9,674.1 Z"/>
<path class="pw" style="stroke-width:1.1" d="M630.3,485.7 L638.9,484.2 L600.9,490.2 L592.3,491.7 Z"/>
<path class="pb" style="fill:#222;stroke-width:0.5" d="M630.3,485.7 L592.3,491.7 L592.9,517.9 L630.9,511.9 Z"/>
<path class="pw" style="stroke-width:1.1" d="M620.4,695.0 L612.3,690.7 L574.3,696.7 L582.4,701.0 Z"/>
<path class="pb" style="fill:#222;stroke-width:0.5" d="M620.4,695.0 L582.4,701.0 L590.7,677.3 L628.7,671.3 Z"/>
<path class="pw" style="stroke-width:1.1" d="M612.3,493.3 L620.4,489.0 L582.4,495.0 L574.3,499.3 Z"/>
<path class="pb" style="fill:#222;stroke-width:0.5" d="M612.3,493.3 L574.3,499.3 L579.5,524.6 L617.5,518.6 Z"/>
<path class="pw" style="stroke-width:1.1" d="M603.3,684.2 L596.2,677.3 L558.2,683.3 L565.3,690.2 Z"/>
<path class="pb" style="fill:#222;stroke-width:0.5" d="M603.3,684.2 L565.3,690.2 L577.4,669.9 L615.4,663.9 Z"/>
<path class="pw" style="stroke-width:1.1" d="M596.2,506.7 L603.3,499.8 L565.3,505.8 L558.2,512.7 Z"/>
<path class="pb" style="fill:#222;stroke-width:0.5" d="M596.2,506.7 L558.2,512.7 L567.6,535.5 L605.6,529.5 Z"/>
<path class="pw" style="stroke-width:1.1" d="M588.6,668.0 L582.8,659.0 L544.8,665.0 L550.6,674.0 Z"/>
<path class="pb" style="fill:#222;stroke-width:0.5" d="M588.6,668.0 L550.6,674.0 L565.8,658.4 L603.8,652.4 Z"/>
<path class="pw" style="stroke-width:1.1" d="M582.8,525.0 L588.6,516.0 L550.6,522.0 L544.8,531.0 Z"/>
<path class="pb" style="fill:#222;stroke-width:0.5" d="M582.8,525.0 L544.8,531.0 L557.9,550.1 L595.9,544.1 Z"/>
<path class="pw" style="stroke-width:1.1" d="M577.1,647.4 L573.0,636.8 L535.0,642.8 L539.1,653.4 Z"/>
<path class="pb" style="fill:#222;stroke-width:0.5" d="M577.1,647.4 L539.1,653.4 L556.6,643.3 L594.6,637.3 Z"/>
<path class="pw" style="stroke-width:1.1" d="M573.0,547.2 L577.1,536.6 L539.1,542.6 L535.0,553.2 Z"/>
<path class="pb" style="fill:#222;stroke-width:0.5" d="M573.0,547.2 L535.0,553.2 L551.0,567.4 L589.0,561.4 Z"/>
<path class="pw" style="stroke-width:1.1" d="M569.4,623.6 L567.3,612.0 L529.3,618.0 L531.4,629.6 Z"/>
<path class="pb" style="fill:#222;stroke-width:0.5" d="M569.4,623.6 L531.4,629.6 L550.2,625.6 L588.2,619.6 Z"/>
<path class="pw" style="stroke-width:1.1" d="M567.3,572.0 L569.4,560.4 L531.4,566.4 L529.3,578.0 Z"/>
<path class="pb" style="fill:#222;stroke-width:0.5" d="M567.3,572.0 L529.3,578.0 L547.3,586.5 L585.3,580.5 Z"/>
<path class="pw" style="stroke-width:1.1" d="M566.1,598.0 L566.1,586.0 L528.1,592.0 L528.1,604.0 Z"/>
<path class="pb" style="fill:#222;stroke-width:0.5" d="M566.1,598.0 L528.1,604.0 L547.0,606.3 L585.0,600.3 Z"/>
<path class="pw" style="stroke-width:1.4" d="M703.0,583.7 L721.9,586.0 L721.9,598.0 L703.0,600.3 L702.7,603.5 L720.7,612.0 L718.6,623.6 L699.8,619.6 L699.0,622.6 L715.0,636.8 L710.9,647.4 L693.4,637.3 L692.1,639.9 L705.2,659.0 L699.4,668.0 L684.2,652.4 L682.4,654.5 L691.8,677.3 L684.7,684.2 L672.6,663.9 L670.5,665.4 L675.7,690.7 L667.6,695.0 L659.3,671.3 L657.1,672.1 L657.7,698.3 L649.1,699.8 L645.1,674.1 L642.9,674.1 L638.9,699.8 L630.3,698.3 L630.9,672.1 L628.7,671.3 L620.4,695.0 L612.3,690.7 L617.5,665.4 L615.4,663.9 L603.3,684.2 L596.2,677.3 L605.6,654.5 L603.8,652.4 L588.6,668.0 L582.8,659.0 L595.9,639.9 L594.6,637.3 L577.1,647.4 L573.0,636.8 L589.0,622.6 L588.2,619.6 L569.4,623.6 L567.3,612.0 L585.3,603.5 L585.0,600.3 L566.1,598.0 L566.1,586.0 L585.0,583.7 L585.3,580.5 L567.3,572.0 L569.4,560.4 L588.2,564.4 L589.0,561.4 L573.0,547.2 L577.1,536.6 L594.6,546.7 L595.9,544.1 L582.8,525.0 L588.6,516.0 L603.8,531.6 L605.6,529.5 L596.2,506.7 L603.3,499.8 L615.4,520.1 L617.5,518.6 L612.3,493.3 L620.4,489.0 L628.7,512.7 L630.9,511.9 L630.3,485.7 L638.9,484.2 L642.9,509.9 L645.1,509.9 L649.1,484.2 L657.7,485.7 L657.1,511.9 L659.3,512.7 L667.6,489.0 L675.7,493.3 L670.5,518.6 L672.6,520.1 L684.7,499.8 L691.8,506.7 L682.4,529.5 L684.2,531.6 L699.4,516.0 L705.2,525.0 L692.1,544.1 L693.4,546.7 L710.9,536.6 L715.0,547.2 L699.0,561.4 L699.8,564.4 L718.6,560.4 L720.7,572.0 L702.7,580.5 Z"/>
<ellipse class="p" style="stroke-width:1.1" cx="644" cy="592" rx="51.5" ry="71.3"/>
<ellipse class="p" style="stroke-width:1.5" cx="647" cy="594" rx="11" ry="16"/>
<ellipse class="p" cx="672.7" cy="613.7" rx="6" ry="8"/>
<ellipse class="p" cx="644.8" cy="637.3" rx="6" ry="8"/>
<ellipse class="p" cx="616.0" cy="615.6" rx="6" ry="8"/>
<ellipse class="p" cx="615.3" cy="570.3" rx="6" ry="8"/>
<ellipse class="p" cx="643.2" cy="546.7" rx="6" ry="8"/>
<ellipse class="p" cx="672.0" cy="568.4" rx="6" ry="8"/>
<path class="p" d="M632,552 L657,636 M614,616 L664,578"/>

</g>
<g transform="translate(535,150) scale(0.19608)">
<path class="pw" style="stroke-width:1.55" d="M480,38 C482,28 492,28 500,33 L612,92 C625,100 638,118 640,135 L638,225 C637,238 625,242 612,236 L498,176 C482,166 472,140 472,122 Z"/>
<ellipse class="p" style="stroke-width:1.55" cx="560" cy="135" rx="40" ry="50" transform="rotate(-25 560 135)"/>
<ellipse class="p" cx="494" cy="100" rx="9" ry="11"/><ellipse class="p" cx="622" cy="172" rx="9" ry="11"/>

</g>
<g transform="translate(40.6,381.8)"><g transform="translate(535,150) scale(0.19608)">
<path class="pw" style="stroke-width:1.55" d="M480,38 C482,28 492,28 500,33 L612,92 C625,100 638,118 640,135 L638,225 C637,238 625,242 612,236 L498,176 C482,166 472,140 472,122 Z"/>
<ellipse class="p" style="stroke-width:1.55" cx="560" cy="135" rx="40" ry="50" transform="rotate(-25 560 135)"/>
<ellipse class="p" cx="494" cy="100" rx="9" ry="11"/><ellipse class="p" cx="622" cy="172" rx="9" ry="11"/>

</g></g>
<g transform="translate(408,140) scale(0.25)">
<path class="pw" style="stroke-width:1.55" d="M462,345 C458,325 475,310 495,310 L520,312 C540,314 555,330 575,358 L605,405 C615,425 612,445 595,452 L575,457 C560,460 545,450 530,438 L480,390 C468,378 464,360 462,345 Z"/>
<ellipse class="p" style="stroke-width:1.55" cx="540" cy="385" rx="24" ry="33" transform="rotate(-25 540 385)"/>
<ellipse class="p" cx="487" cy="354" rx="7" ry="9"/><ellipse class="p" cx="590" cy="413" rx="7" ry="9"/>

</g>
<g transform="translate(116,337.8)"><g transform="translate(408,140) scale(0.25)">
<path class="pw" style="stroke-width:1.55" d="M462,345 C458,325 475,310 495,310 L520,312 C540,314 555,330 575,358 L605,405 C615,425 612,445 595,452 L575,457 C560,460 545,450 530,438 L480,390 C468,378 464,360 462,345 Z"/>
<ellipse class="p" style="stroke-width:1.55" cx="540" cy="385" rx="24" ry="33" transform="rotate(-25 540 385)"/>
<ellipse class="p" cx="487" cy="354" rx="7" ry="9"/><ellipse class="p" cx="590" cy="413" rx="7" ry="9"/>

</g></g>
<g transform="translate(415,215) scale(0.15931)">
<path class="pw" style="stroke-width:1.55" d="M40,380 C35,350 60,335 85,348 L225,430 C250,445 258,480 252,520 C250,545 225,552 205,540 L75,465 C50,450 42,410 40,380 Z"/>
<ellipse class="p" style="stroke-width:1.55" cx="140" cy="440" rx="29" ry="40" transform="rotate(-22 140 440)"/>
<ellipse class="p" cx="76" cy="405" rx="9" ry="12" transform="rotate(-20 76 405)"/><ellipse class="p" cx="214" cy="490" rx="9" ry="12" transform="rotate(-20 214 490)"/>

</g>
<g transform="translate(190.1,295.6)"><g transform="translate(415,215) scale(0.15931)">
<path class="pw" style="stroke-width:1.55" d="M40,380 C35,350 60,335 85,348 L225,430 C250,445 258,480 252,520 C250,545 225,552 205,540 L75,465 C50,450 42,410 40,380 Z"/>
<ellipse class="p" style="stroke-width:1.55" cx="140" cy="440" rx="29" ry="40" transform="rotate(-22 140 440)"/>
<ellipse class="p" cx="76" cy="405" rx="9" ry="12" transform="rotate(-20 76 405)"/><ellipse class="p" cx="214" cy="490" rx="9" ry="12" transform="rotate(-20 214 490)"/>

</g></g>
<g transform="translate(535,150) scale(0.19608)">
<!-- carb: left fittings -->
<path class="pw" d="M100,150 L150,160 L175,150 L205,165 L205,215 L170,215 L150,205 L100,205 Z"/>
<ellipse class="pw" cx="100" cy="177" rx="12" ry="28"/><path class="p" d="M150,160 C140,175 140,195 150,205 M128,155 C120,170 120,192 128,205 M175,150 C165,165 165,200 170,215"/>
<ellipse class="p" cx="188" cy="185" rx="14" ry="22"/>
<!-- top right fitting -->
<path class="pw" d="M370,125 L395,92 C405,82 425,92 420,108 L400,140 Z"/><ellipse class="p" cx="410" cy="100" rx="10" ry="14" transform="rotate(35 410 100)"/>
<!-- body -->
<path class="pw" style="stroke-width:1.55" d="M203,165 L300,112 L440,180 L440,330 L345,405 L330,420 L215,372 Z"/>
<path class="p" d="M203,165 L335,235 L440,180 M335,235 L340,400 M203,180 L335,250 L440,195 M205,215 L335,285 M215,372 L215,390 L330,440 L345,425 L440,345 V330"/>
<!-- dome -->
<path class="pw" d="M265,160 C262,100 290,80 320,80 C350,80 378,100 375,160 C375,185 265,185 265,160 Z"/>
<path class="p" d="M268,150 C280,168 360,168 372,150 M272,138 C285,152 355,152 368,138"/>
<ellipse class="p" cx="320" cy="88" rx="12" ry="6"/>
<ellipse class="p" cx="222" cy="158" rx="8" ry="6"/><ellipse class="p" cx="318" cy="205" rx="10" ry="7"/><ellipse class="p" cx="418" cy="170" rx="8" ry="6"/>
<!-- venturi -->
<ellipse class="pw" style="stroke-width:1.65" cx="258" cy="305" rx="34" ry="40" transform="rotate(-15 258 305)"/>
<ellipse class="p" cx="262" cy="308" rx="20" ry="26" transform="rotate(-15 262 308)"/><path class="p" d="M250,290 L275,325 M268,288 L255,328"/>
<path class="p" d="M180,262 C170,262 170,280 182,280 M192,300 C200,295 212,300 212,312 M312,300 C325,300 325,318 312,320 M312,335 C325,335 325,352 312,355"/>
<ellipse class="p" cx="355" cy="298" rx="10" ry="13"/>
<!-- left bottom squiggles -->
<path class="pw" d="M115,300 L150,260 L205,250 L212,360 L170,380 L150,350 L120,340 Z"/>
<path class="p" d="M150,260 L160,300 L205,290 M130,315 C140,305 155,310 150,325 M150,350 C160,335 185,335 195,350 M160,300 L165,345"/>
<!-- right lever -->
<path class="pw" d="M400,240 L440,225 L500,228 L545,240 L560,250 L545,262 L500,270 L470,262 L430,300 L405,290 Z"/>
<path class="p" d="M440,225 L450,250 L500,250 L500,270 M500,228 L510,245 L545,250 M450,250 L430,270"/>
<ellipse class="pw" cx="425" cy="292" rx="16" ry="18"/><ellipse class="p" cx="425" cy="292" rx="7" ry="8"/>
<path class="pw" d="M395,320 L430,312 L430,380 L440,400 L420,410 L395,395 Z"/><path class="h" d="M398,335 H428 M398,345 H428 M398,355 H428 M398,365 H428"/>
<ellipse class="p" cx="425" cy="398" rx="10" ry="8"/>
<!-- bottom tube -->
<path class="pw" d="M238,410 L215,455 C212,470 245,485 255,470 L272,425 Z"/><path class="p" d="M215,455 C225,448 250,458 255,470"/>

<path class="p" d="M215,235 L325,292 M215,250 L325,306 M345,300 L430,240 M345,330 L435,268 M225,200 L240,208 M300,240 L320,250 M355,255 L372,246 M230,340 L250,352 M300,372 L318,380 M360,380 L380,366"/>
<ellipse class="p" cx="232" cy="222" rx="7" ry="6"/><ellipse class="p" cx="312" cy="266" rx="7" ry="6"/><ellipse class="p" cx="365" cy="262" rx="6" ry="7"/><ellipse class="p" cx="410" cy="232" rx="6" ry="7"/>
<ellipse class="p" cx="232" cy="360" rx="6" ry="7"/><ellipse class="p" cx="312" cy="396" rx="6" ry="7"/>
<path class="p" style="stroke-width:1.6" d="M170,215 C150,230 150,260 175,262 M120,340 C135,360 160,365 170,380 M440,330 C460,330 470,345 462,360 L440,400"/>
<ellipse class="pw" cx="385" cy="345" rx="13" ry="16"/><ellipse class="p" cx="385" cy="345" rx="5" ry="7"/>

</g>
<g transform="translate(415,215) scale(0.15931)">
<!-- housing back top bits -->
<path class="pw" d="M410,60 C415,30 465,35 470,70 L480,110 L420,110 Z"/>
<path class="pw" d="M580,180 C585,145 640,150 650,185 L660,215 L600,215 Z"/>
<path class="pw" d="M715,262 L742,285 L745,320 L718,340 Z"/><path class="h" d="M718,280 L742,295 M718,295 L744,308 M718,310 L742,322"/>
<!-- plate -->
<path class="pw" style="stroke-width:1.2;stroke:#333" d="M345,72 L372,46 L400,44 L420,80 L480,112 L690,232 L720,268 L716,690 L690,702 L610,742 L520,695 L520,680 C560,640 590,590 560,540 C540,515 510,520 495,545 L490,562 L470,612 L445,636 L310,566 L305,545 Z"/>
<path class="p" style="stroke-width:1.05;stroke:#333" d="M380,92 L350,500 L305,545 M350,500 L490,562 M372,46 L380,92 L420,80 M380,92 L470,140 L690,262 V702 M690,232 V262 M520,680 L545,650 L640,690 L610,742 M640,690 L690,665"/>
<path class="h" style="stroke:#555" d="M318,550 L452,618 M328,540 L460,606 M532,690 L615,730 M540,676 L625,716 M703,360 V690"/>
<path class="p" d="M352,75 C345,80 350,92 358,88 M395,95 C385,100 388,118 400,115"/>
<!-- carb mount block -->
<path class="pw" style="stroke-width:1.7" d="M385,170 L420,150 L470,186 L520,176 L562,192 L620,240 L642,290 L636,340 L602,392 L572,402 L546,382 L540,346 L500,322 L460,302 L420,302 L392,282 L380,222 Z"/>
<path class="p" d="M385,170 L400,190 L455,215 L520,200 L562,215 L610,260 L625,300 M400,190 L398,270 M470,186 L455,215 M540,346 C560,350 600,340 636,340 M546,382 C560,370 590,365 602,392"/>
<ellipse class="pw" style="stroke-width:2" cx="410" cy="228" rx="22" ry="38" transform="rotate(-12 410 228)"/>
<ellipse class="pw" style="stroke-width:2" cx="560" cy="292" rx="22" ry="36" transform="rotate(-12 560 292)"/>
<ellipse class="p" cx="555" cy="296" rx="10" ry="16"/>
<path class="p" style="stroke-width:2" d="M420,195 C450,215 440,260 470,275 M500,215 C490,240 500,275 530,285 M470,222 C465,250 475,280 500,300"/>

</g>
<g transform="translate(408,140) scale(0.25)">
<!-- tube 17 -->
<path class="pw" style="stroke-width:1.55" d="M622,474 C630,464 660,470 662,486 L552,660 C545,672 512,660 512,645 Z"/>
<path class="pb" d="M512,645 C520,640 548,650 552,660 C545,672 512,660 512,645 Z"/>

</g>
<g transform="translate(150,370) scale(0.14006)">
<path class="p" style="stroke-width:1.55" d="M210,90 L590,300 L590,905 L512,860 L505,872 L408,820 L392,822 L388,880 L272,802 L270,712 L242,692 L236,675 L150,620 L150,415 L205,442 Z"/>
<path class="p" style="stroke-width:2.8" d="M591,640 L592,932"/>
<ellipse class="p" style="stroke-width:1.9" cx="432" cy="338" rx="31" ry="48" transform="rotate(-25 432 338)"/>
<ellipse class="p" style="stroke-width:1.9" cx="352" cy="296" rx="9" ry="15" transform="rotate(-25 352 296)"/>
<ellipse class="p" style="stroke-width:1.9" cx="515" cy="386" rx="9" ry="15" transform="rotate(-25 515 386)"/>

</g>
<g transform="translate(386.85,181.9)"><g transform="translate(150,370) scale(0.14006)">
<path class="p" style="stroke-width:1.55" d="M210,90 L590,300 L590,905 L512,860 L505,872 L408,820 L392,822 L388,880 L272,802 L270,712 L242,692 L236,675 L150,620 L150,415 L205,442 Z"/>
<path class="p" style="stroke-width:2.8" d="M591,640 L592,932"/>
<ellipse class="p" style="stroke-width:1.9" cx="432" cy="338" rx="31" ry="48" transform="rotate(-25 432 338)"/>
<ellipse class="p" style="stroke-width:1.9" cx="352" cy="296" rx="9" ry="15" transform="rotate(-25 352 296)"/>
<ellipse class="p" style="stroke-width:1.9" cx="515" cy="386" rx="9" ry="15" transform="rotate(-25 515 386)"/>

</g></g>
<g transform="translate(408,0) scale(0.25)">
<path class="pw" style="stroke-width:1.55" d="M98,334 C102,328 110,330 114,338 L150,343 L408,488 C428,492 446,506 442,522 C438,538 416,542 396,536 L122,368 L104,348 C98,344 96,338 98,334 Z"/>
<ellipse class="p" cx="408" cy="515" rx="11" ry="8"/>
<path class="h" d="M300,456 L318,465 L314,474 L296,465 Z M307,459 L304,469"/>

</g>
<g transform="translate(206.5,744.75)"><g transform="translate(408,0) scale(0.25)">
<path class="pw" style="stroke-width:1.55" d="M98,334 C102,328 110,330 114,338 L150,343 L408,488 C428,492 446,506 442,522 C438,538 416,542 396,536 L122,368 L104,348 C98,344 96,338 98,334 Z"/>
<ellipse class="p" cx="408" cy="515" rx="11" ry="8"/>
<path class="h" d="M300,456 L318,465 L314,474 L296,465 Z M307,459 L304,469"/>

</g></g>
<path class="l" style="stroke-width:1.35" d="M208,634.3 L184,648.8 L343.5,740.2 L371,724.5 M212.3,662.8 L234.3,648.8 M295.3,710.5 L303.5,705.5"/>

<g transform="translate(170,590) scale(0.18382)">
<ellipse class="pw" style="stroke-width:1.6" cx="140" cy="110" rx="46" ry="66" transform="rotate(18 140 110)"/>
<path style="fill:#fff;stroke:none" d="M149.6,162.8 L119.6,172.8 L160.4,47.2 L190.4,37.2 Z"/>
<path class="p" style="stroke-width:1.6" d="M149.6,162.8 L119.6,172.8 M160.4,47.2 L190.4,37.2"/>
<ellipse class="pw" style="stroke-width:1.6" cx="170" cy="100" rx="46" ry="66" transform="rotate(18 170 100)"/>
<ellipse class="p" style="stroke-width:2.4" cx="172" cy="102" rx="33.1" ry="47.5" transform="rotate(18 172 102)"/>
<ellipse class="p" style="stroke-width:1.3" cx="174" cy="103" rx="23.0" ry="33.0" transform="rotate(18 174 103)"/>
<ellipse class="pw" cx="248" cy="180" rx="40.0" ry="58.4" transform="rotate(12 248 180)"/>
<path class="pw" style="stroke-width:1.2" d="M305.0,257.1 L293.3,260.0 L243.3,252.0 L255.0,249.1 Z"/>
<path class="pw" style="stroke-width:1.2" d="M305.0,257.1 L255.0,249.1 L256.9,227.9 L306.9,235.9 Z"/>
<path class="pw" style="stroke-width:1.2" d="M278.7,258.3 L268.4,252.7 L218.4,244.7 L228.7,250.3 Z"/>
<path class="pw" style="stroke-width:1.2" d="M278.7,258.3 L228.7,250.3 L237.8,231.6 L287.8,239.6 Z"/>
<path class="pw" style="stroke-width:1.2" d="M257.6,240.7 L251.5,228.0 L201.5,220.0 L207.6,232.7 Z"/>
<path class="pw" style="stroke-width:1.2" d="M257.6,240.7 L207.6,232.7 L221.4,221.4 L271.4,229.4 Z"/>
<path class="pw" style="stroke-width:1.2" d="M247.3,208.9 L247.0,192.6 L197.0,184.6 L197.3,200.9 Z"/>
<path class="pw" style="stroke-width:1.2" d="M247.3,208.9 L197.3,200.9 L212.2,200.2 L262.2,208.2 Z"/>
<path class="pw" style="stroke-width:1.2" d="M250.6,171.6 L256.2,156.0 L206.2,148.0 L200.6,163.6 Z"/>
<path class="pw" style="stroke-width:1.2" d="M250.6,171.6 L200.6,163.6 L212.6,173.5 L262.6,181.5 Z"/>
<path class="pw" style="stroke-width:1.2" d="M266.5,138.7 L276.6,127.9 L226.6,119.9 L216.5,130.7 Z"/>
<path class="pw" style="stroke-width:1.2" d="M266.5,138.7 L216.5,130.7 L222.4,148.6 L272.4,156.6 Z"/>
<path class="pw" style="stroke-width:1.2" d="M291.0,118.9 L302.7,116.0 L252.7,108.0 L241.0,110.9 Z"/>
<path class="pw" style="stroke-width:1.2" d="M291.0,118.9 L241.0,110.9 L239.1,132.1 L289.1,140.1 Z"/>
<path class="pw" style="stroke-width:1.2" d="M317.3,117.7 L327.6,123.3 L277.6,115.3 L267.3,109.7 Z"/>
<path class="pw" style="stroke-width:1.2" d="M317.3,117.7 L267.3,109.7 L258.2,128.4 L308.2,136.4 Z"/>
<path class="pw" style="stroke-width:1.3" d="M333.4,194.5 L345.4,204.4 L339.8,220.0 L325.7,215.8 L323.6,219.4 L329.5,237.3 L319.4,248.1 L309.8,234.0 L306.9,235.9 L305.0,257.1 L293.3,260.0 L290.8,239.9 L287.8,239.6 L278.7,258.3 L268.4,252.7 L273.7,231.9 L271.4,229.4 L257.6,240.7 L251.5,228.0 L263.1,212.1 L262.2,208.2 L247.3,208.9 L247.0,192.6 L261.8,185.9 L262.6,181.5 L250.6,171.6 L256.2,156.0 L270.3,160.2 L272.4,156.6 L266.5,138.7 L276.6,127.9 L286.2,142.0 L289.1,140.1 L291.0,118.9 L302.7,116.0 L305.2,136.1 L308.2,136.4 L317.3,117.7 L327.6,123.3 L322.3,144.1 L324.6,146.6 L338.4,135.3 L344.5,148.0 L332.9,163.9 L333.8,167.8 L348.7,167.1 L349.0,183.4 L334.2,190.1 Z"/>
<ellipse class="p" style="stroke-width:1.6" cx="302" cy="190" rx="26" ry="40" transform="rotate(12 302 190)"/>
<ellipse class="p" cx="308" cy="192" rx="16" ry="28" transform="rotate(12 308 192)"/>
<ellipse class="pw" style="stroke-width:1.7" cx="422" cy="282" rx="76" ry="106" transform="rotate(18 422 282)"/>
<path style="fill:#fff;stroke:none" d="M429.2,370.8 L389.2,382.8 L454.8,181.2 L494.8,169.2 Z"/>
<path class="p" style="stroke-width:1.7" d="M429.2,370.8 L389.2,382.8 M454.8,181.2 L494.8,169.2"/>
<ellipse class="pw" style="stroke-width:1.7" cx="462" cy="270" rx="76" ry="106" transform="rotate(18 462 270)"/>
<ellipse class="p" style="stroke-width:1.2" cx="462" cy="270" rx="62.3" ry="86.9" transform="rotate(18 462 270)"/>
<ellipse class="p" style="stroke-width:1.8" cx="464" cy="272" rx="45.6" ry="63.6" transform="rotate(18 464 272)"/>
<ellipse class="p" style="stroke-width:1.4" cx="466" cy="273" rx="27.4" ry="38.2" transform="rotate(18 466 273)"/>
<path class="p" d="M438,210 L452,230 M492,204 L479,226 M510,302 L490,298 M472,340 L466,320 M428,314 L445,302"/>
<path class="pb" d="M380,330 C388,365 410,385 440,390 L436,376 C414,372 396,356 388,326 Z"/>

</g>
<g transform="translate(260,600) scale(0.2206)">
<ellipse class="pw" style="stroke-width:1.7" cx="562" cy="532" rx="66" ry="90" transform="rotate(18 562 532)"/>
<path style="fill:#fff;stroke:none" d="M570.2,605.6 L534.2,617.6 L589.8,446.4 L625.8,434.4 Z"/>
<path class="p" style="stroke-width:1.7" d="M570.2,605.6 L534.2,617.6 M589.8,446.4 L625.8,434.4"/>
<ellipse class="pw" style="stroke-width:1.7" cx="598" cy="520" rx="66" ry="90" transform="rotate(18 598 520)"/>
<ellipse class="p" style="stroke-width:1.2" cx="598" cy="520" rx="54.1" ry="73.8" transform="rotate(18 598 520)"/>
<ellipse class="p" style="stroke-width:1.8" cx="600" cy="522" rx="39.6" ry="54.0" transform="rotate(18 600 522)"/>
<ellipse class="p" style="stroke-width:1.4" cx="602" cy="523" rx="23.8" ry="32.4" transform="rotate(18 602 523)"/>
<path class="p" d="M580,470 L590,486 M625,470 L612,484 M636,545 L620,540 M600,580 L598,562 M568,555 L580,545"/>
<path class="pb" d="M512,560 C520,590 540,600 560,604 L556,592 C540,588 524,578 518,556 Z"/>
<ellipse class="pw" style="stroke-width:1.55" cx="690" cy="598" rx="40" ry="54" transform="rotate(18 690 598)"/>
<path style="fill:#fff;stroke:none" d="M699.3,641.4 L673.3,649.4 L706.7,546.6 L732.7,538.6 Z"/>
<path class="p" style="stroke-width:1.55" d="M699.3,641.4 L673.3,649.4 M706.7,546.6 L732.7,538.6"/>
<ellipse class="pw" style="stroke-width:1.55" cx="716" cy="590" rx="40" ry="54" transform="rotate(18 716 590)"/>
<ellipse class="p" style="stroke-width:2.2" cx="718" cy="592" rx="28.8" ry="38.9" transform="rotate(18 718 592)"/>
<ellipse class="p" style="stroke-width:1.2" cx="720" cy="593" rx="19.2" ry="25.9" transform="rotate(18 720 593)"/>

</g>
<g transform="translate(282,612) scale(0.12255)">
<!-- left shaft -->
<path class="pw" style="stroke-width:1.6" d="M-40,300 L180,415 L165,520 L-62,405 Z"/>
<path class="p" style="stroke-width:2.2" d="M-50,402 L150,500"/>
<path class="pw" style="stroke-width:1.5" d="M-98,322 C-94,300 -70,296 -56,308 L-30,322 L-52,366 L-88,348 C-100,340 -102,332 -98,322 Z"/><path class="h" d="M-76,308 L-96,344 M-62,314 L-82,352 M-48,320 L-68,358"/>
<path class="p" d="M10,328 L-12,430"/>
<!-- right shaft -->
<path class="pw" style="stroke-width:1.6" d="M470,560 C500,528 552,540 546,592 L560,600 L640,700 L700,738 C730,748 742,770 734,790 C726,810 700,818 680,806 L640,780 L500,720 L350,640 Z"/>
<path class="p" d="M546,592 L470,640 M560,600 L520,700 M640,700 L615,770 M575,625 L650,710 M545,650 L625,735 M700,738 L680,806"/><ellipse class="p" cx="712" cy="782" rx="10" ry="16" transform="rotate(-25 712 782)"/>
<path class="h" d="M650,745 L640,775 M665,752 L655,785 M680,760 L670,795"/>
<path class="p" style="stroke-width:2" d="M360,650 L500,722"/>
<!-- left web -->
<path class="pw" style="stroke-width:1.7" d="M200,320 L250,300 L276,320 L232,375 L216,470 L222,570 L292,560 L292,600 L215,745 L190,742 L120,716 C68,700 58,640 110,600 L165,540 L170,420 L196,356 Z"/>
<path class="p" d="M200,320 L226,345 L276,320 M226,345 L230,375 M200,320 L205,358 L230,375 M222,570 L150,640 M140,625 L290,556 M150,640 L292,572 M150,640 C120,660 120,700 150,716"/>
<!-- right web -->
<path class="pw" style="stroke-width:1.7" d="M345,420 L400,395 L440,420 C482,450 482,520 460,560 L440,640 L470,700 C482,760 400,822 330,810 C280,805 240,780 215,745 L200,700 C210,660 250,640 280,652 L310,640 L320,520 Z"/>
<path class="p" d="M345,420 L386,445 L440,420 M386,445 L380,470 M345,430 L320,520 M310,640 L270,682 L215,745 M380,470 C350,490 340,540 350,590 L345,650 C340,680 300,700 280,652 M440,640 C420,660 380,665 350,650"/>
<ellipse class="pw" style="stroke-width:1.5" cx="400" cy="512" rx="38" ry="46" transform="rotate(15 400 512)"/><ellipse class="p" cx="400" cy="514" rx="13" ry="16"/>
<!-- conrod -->
<path class="pw" style="stroke-width:1.7" d="M262,170 L228,450 C250,480 300,470 330,410 L345,200 Z"/>
<path class="p" d="M282,185 L250,440 M325,200 L300,430 M232,420 C255,450 300,440 328,390 M236,400 C258,428 300,418 326,372"/>
<path class="p" style="stroke-width:1.5" d="M345,215 C365,280 378,340 378,392"/>
<ellipse class="pw" style="stroke-width:2.2" cx="296" cy="104" rx="68" ry="72" transform="rotate(15 296 104)"/>
<ellipse class="pw" style="stroke-width:1.8" cx="318" cy="112" rx="66" ry="70" transform="rotate(15 318 112)"/>
<ellipse class="pb" style="fill:#333" cx="345" cy="126" rx="27" ry="38" transform="rotate(15 345 126)"/>
<path style="fill:none;stroke:#fff;stroke-width:0.9" d="M330,110 L362,118 M328,126 L362,134 M330,142 L360,150"/>
<ellipse class="p" cx="318" cy="112" rx="46" ry="52" transform="rotate(15 318 112)"/>

</g>
<g transform="translate(230,725) scale(0.25735)">
<!-- volute outer -->
<path class="pw" style="stroke-width:1.65" d="M578,55 L655,100 L652,118 C700,150 730,180 745,190 L770,180 C795,190 800,225 785,245 C770,300 760,380 730,450 C700,530 650,610 600,660 L575,720 L470,772 L445,760 L440,720 C380,700 320,650 290,590 C270,540 272,500 290,470 L578,220 Z"/>
<!-- volute inner lines -->
<path class="p" d="M590,110 C650,150 700,230 705,330 C705,430 650,540 560,610 C500,650 430,660 370,625 C345,605 335,570 340,540"/>
<path class="p" d="M600,160 C650,200 685,260 685,340 C685,430 640,520 555,585 C500,625 440,635 390,610 C365,595 355,570 358,545"/>
<path class="p" d="M652,118 C720,190 745,290 735,380 C720,480 660,580 580,650 C520,700 450,720 440,720 M290,590 C310,640 360,680 420,690"/>
<path class="p" d="M578,55 V220 M590,62 V200"/>
<path class="h" d="M592,64 L650,98 M592,72 L648,106 M592,80 L640,108 M592,88 L630,110"/>
<!-- right lug -->
<ellipse class="p" cx="768" cy="232" rx="14" ry="20" transform="rotate(20 768 232)"/><ellipse class="p" cx="745" cy="212" rx="5" ry="7"/>
<path class="p" d="M700,165 L745,150 L765,165 L745,190"/>
<!-- bottom lug -->
<ellipse class="p" cx="555" cy="682" rx="16" ry="20" transform="rotate(30 555 682)"/><ellipse class="p" cx="488" cy="712" rx="6" ry="8"/><ellipse class="p" cx="510" cy="712" rx="6" ry="8"/>
<path class="p" d="M445,760 L452,730 L470,740 L470,772 M452,730 L440,720"/>
<!-- crescent window -->
<path class="pw" d="M495,412 C530,395 560,380 592,370 C590,430 550,500 480,546 C485,500 490,450 495,412 Z"/>
<path class="p" d="M505,420 C530,408 555,398 578,392"/>

</g>
<g transform="translate(300,735) scale(0.17157)">
<path class="pw" style="stroke-width:1.6" d="M50,170 L78,132 C90,120 108,122 120,136 L160,178 L270,250 L440,206 L452,215 L452,300 L400,352 L345,482 L300,472 L-10,330 L-10,295 Z"/>
<path class="p" d="M80,192 L270,292 L270,268 L440,228 M50,170 L80,192 L20,322 M270,292 L390,352 L440,292 M160,178 L148,204 M290,302 L412,262 M305,330 L420,292 M118,135 L105,160 L80,192 M20,322 L92,292 L270,380 L300,372 L390,352"/>
<ellipse class="p" cx="140" cy="186" rx="12" ry="9"/>
<path class="p" style="stroke-width:1.5" d="M-10,345 L100,366 C118,350 150,354 166,380 L300,450 C320,440 345,450 352,478 L372,494"/>
<path class="p" d="M-10,358 L98,380 C120,366 145,370 160,394 L296,464 C318,456 338,466 344,490"/>
<ellipse class="p" cx="126" cy="368" rx="14" ry="9"/><ellipse class="p" cx="338" cy="492" rx="14" ry="9"/>
<path class="p" d="M60,400 C40,440 50,480 80,520 M100,392 C80,435 90,480 120,525 M165,390 C140,430 150,490 190,540 M215,420 C195,470 205,520 235,570 M255,445 C235,490 245,545 275,590 M300,462 C280,500 285,560 310,600"/>

</g>
<g transform="translate(235,770) scale(0.17157)">
<!-- lower-left big arcs -->
<path class="p" style="stroke-width:1.5" d="M395,485 C385,560 410,650 480,720 M468,472 C455,540 465,620 500,690 M440,500 C432,560 448,640 492,705"/>
<!-- pillars -->
<path class="pw" d="M520,470 L520,600 C545,602 560,620 560,642 L600,642 L600,470 Z"/>
<path class="pw" d="M620,470 V642 L682,600 V440 Z"/>
<path class="p" d="M560,560 C590,570 600,600 592,632 M640,480 V625 M520,600 C500,590 490,570 492,540"/>
<!-- right saddle -->
<path class="pw" style="stroke-width:1.5" d="M525,200 L545,182 L700,285 C720,280 736,290 736,306 L722,340 L700,385 L650,412 L605,402 L545,382 L500,352 L470,340 Z"/>
<path class="p" d="M545,185 C520,240 520,320 545,382 M600,225 C580,280 585,340 605,402 M640,250 C625,300 630,360 650,412 M570,202 C548,250 548,330 572,392 M700,285 L690,310 L700,385 M690,310 L722,340"/>
<ellipse class="p" cx="716" cy="292" rx="13" ry="8"/>
<!-- arm -->
<path class="pw" style="stroke-width:1.6" d="M60,180 C58,158 82,140 106,150 L300,235 L420,320 L400,395 L330,392 L95,268 C75,260 62,240 60,180 Z"/>
<path class="p" d="M130,185 L410,322 M118,212 L395,350 M130,185 C118,190 114,204 118,212 M142,192 L140,224 M106,150 C96,160 92,180 96,200 L100,240"/>
<path class="h" d="M136,200 L400,332"/>
<ellipse class="p" cx="236" cy="212" rx="9" ry="6"/><ellipse class="p" cx="376" cy="352" rx="9" ry="6"/>
<!-- left saddle -->
<path class="pw" style="stroke-width:1.5" d="M340,150 C360,140 382,148 392,165 L480,190 C500,178 520,184 526,200 L470,340 L430,300 L400,310 L330,290 L300,235 C296,205 320,168 340,150 Z"/>
<path class="p" d="M355,152 C320,170 296,205 300,235 M395,165 C360,190 340,230 345,262 L400,310 M450,185 C430,210 420,250 425,290 M480,190 C462,215 455,255 460,295 M345,262 L330,290 M372,158 C340,180 318,218 322,250"/>
<ellipse class="p" cx="500" cy="165" rx="13" ry="8"/>
<!-- tube -->
<path class="pw" style="stroke-width:1.6" d="M200,382 L262,352 C280,350 292,365 300,380 L345,400 L382,430 L380,470 L340,472 L300,455 L228,442 Z"/>
<ellipse class="pw" style="stroke-width:1.6" cx="205" cy="412" rx="27" ry="31"/><ellipse class="p" cx="206" cy="413" rx="11" ry="13"/>
<path class="p" d="M262,352 C250,372 255,420 275,448 M300,380 L290,452"/>
<!-- bracket -->
<path class="pw" style="stroke-width:1.6" d="M380,430 L420,390 L470,340 L502,352 L482,400 L470,470 L440,500 L395,484 Z"/>
<path class="p" d="M420,390 L442,420 L432,482 M470,340 L452,402 L442,420 M482,400 L520,420 L545,470 M500,352 L545,382"/>
<ellipse class="p" cx="455" cy="470" rx="8" ry="10"/>

</g>
<g transform="translate(420,715) scale(0.12255)">
<!-- screw 16 -->
<path class="pw" style="stroke-width:1.4" d="M440,150 L430,180 C432,192 450,194 456,186 L470,160 Z"/>
<ellipse class="pw" style="stroke-width:2" cx="472" cy="126" rx="36" ry="30"/><ellipse class="p" style="stroke-width:1.4" cx="474" cy="124" rx="17" ry="13"/>
<path class="p" d="M464,118 L484,130 M484,116 L466,132"/>
<!-- part 15 left block -->
<path class="pw" style="stroke-width:1.6" d="M88,196 L150,150 L200,164 L212,182 L252,200 L272,250 L262,322 L240,326 L95,242 Z"/>
<path class="p" d="M96,212 L250,292 M100,228 L246,308 M150,150 L156,176 L212,196 L212,182 M156,176 L120,204 M212,196 L200,222 M104,198 L246,272 M252,200 L244,270"/>
<path class="pb" style="fill:#333" d="M160,182 L206,198 L198,216 L150,198 Z"/>
<!-- dark coil -->
<path style="fill:#1c1c1c;stroke:#111;stroke-width:1.2" d="M268,206 L300,190 L380,178 L405,210 L420,235 L422,330 L400,392 L350,405 L318,420 L292,362 L262,322 L272,250 Z"/>
<path style="fill:none;stroke:#fff;stroke-width:1.1" d="M300,250 C320,232 350,228 372,240 M306,282 C328,262 360,258 384,270 M316,312 C338,294 368,290 394,302 M326,344 C348,326 376,322 400,334 M338,374 C356,360 380,356 398,364"/>
<path style="fill:none;stroke:#fff;stroke-width:0.9" d="M290,215 L330,200 M340,205 L372,196 M284,235 L300,225"/>
<path class="p" style="stroke-width:1.2" d="M380,178 L388,200 M405,210 L418,196 L424,222 M330,186 L336,205"/>
<!-- bottom tab -->
<path class="pw" style="stroke-width:1.6" d="M350,405 L400,392 L422,350 L455,468 L442,494 L372,492 Z"/>
<path class="p" d="M372,440 L430,425 M372,492 L380,470 L446,462 M400,392 L410,425"/>
<path class="pb" style="fill:#333" d="M380,472 L444,464 L440,490 L376,490 Z"/>

</g>
<g transform="translate(0,696) scale(0.25)">
<!-- cap -->
<path class="pw" style="stroke-width:1.55" d="M366,312 C366,292 444,292 444,312 L452,408 C452,432 358,432 358,408 Z"/>
<ellipse class="p" cx="405" cy="312" rx="34" ry="13"/>
<path class="p" d="M400,318 L405,308 L412,318"/>
<path class="h" d="M372,322 L366,412 M384,328 L380,420 M398,330 L396,424 M412,330 L414,424 M426,328 L430,420 M438,322 L444,412"/>
<!-- shoulder + body -->
<path class="pw" style="stroke-width:1.55" d="M358,400 C340,404 334,416 337,432 L305,872 H505 L472,432 C475,416 470,404 452,400 C452,432 358,432 358,400 Z"/>
<path class="p" d="M337,432 C345,462 465,462 472,432"/>
<path class="h" d="M372,456 C390,462 420,462 438,456"/>
<path style="fill:#111;stroke:#111;stroke-width:0.6" d="M460,442 L474,436 L504,870 L493,870 Z"/>
<!-- crimp -->
<rect class="pw" style="stroke-width:1.55" x="298" y="872" width="217" height="20" rx="3"/>
<path class="h" style="stroke-width:1" d="M310,873 V891 M322,873 V891 M334,873 V891 M346,873 V891 M358,873 V891 M370,873 V891 M382,873 V891 M394,873 V891 M406,873 V891 M418,873 V891 M430,873 V891 M442,873 V891 M454,873 V891 M466,873 V891 M478,873 V891 M490,873 V891 M502,873 V891"/>
<path class="h" d="M320,860 H350"/>

</g>
<g transform="translate(0,0) scale(1)">
<g transform="translate(624.4,486.9)"><ellipse class="pw" style="stroke-width:1.6" cx="0" cy="0" rx="5.3" ry="2.7"/><ellipse class="p" style="stroke-width:1.65" cx="0.2" cy="0" rx="2.3" ry="1.1"/></g>
<g transform="translate(611.5,769.6)"><ellipse class="pw" style="stroke-width:1.6" cx="0" cy="0" rx="5.3" ry="2.7"/><ellipse class="p" style="stroke-width:1.65" cx="0.2" cy="0" rx="2.3" ry="1.1"/></g>

</g>
<g transform="translate(488.5,52)"><g transform="translate(170,590) scale(0.18382)">
<ellipse class="pw" style="stroke-width:1.55" cx="140" cy="110" rx="44" ry="64" transform="rotate(18 140 110)"/>
<path style="fill:#fff;stroke:none" d="M150.2,160.9 L120.2,170.9 L159.8,49.1 L189.8,39.1 Z"/>
<path class="p" style="stroke-width:1.55" d="M150.2,160.9 L120.2,170.9 M159.8,49.1 L189.8,39.1"/>
<ellipse class="pw" style="stroke-width:1.55" cx="170" cy="100" rx="44" ry="64" transform="rotate(18 170 100)"/>
<ellipse class="p" style="stroke-width:2.4" cx="172" cy="102" rx="31.7" ry="46.1" transform="rotate(18 172 102)"/>
<ellipse class="p" style="stroke-width:1.2" cx="174" cy="103" rx="22.0" ry="32.0" transform="rotate(18 174 103)"/>

</g></g>
<g transform="translate(511.5,65)"><g transform="translate(170,590) scale(0.18382)">
<ellipse class="pw" style="stroke-width:1.55" cx="140" cy="110" rx="44" ry="64" transform="rotate(18 140 110)"/>
<path style="fill:#fff;stroke:none" d="M150.2,160.9 L120.2,170.9 L159.8,49.1 L189.8,39.1 Z"/>
<path class="p" style="stroke-width:1.55" d="M150.2,160.9 L120.2,170.9 M159.8,49.1 L189.8,39.1"/>
<ellipse class="pw" style="stroke-width:1.55" cx="170" cy="100" rx="44" ry="64" transform="rotate(18 170 100)"/>
<ellipse class="p" style="stroke-width:2.4" cx="172" cy="102" rx="31.7" ry="46.1" transform="rotate(18 172 102)"/>
<ellipse class="p" style="stroke-width:1.2" cx="174" cy="103" rx="22.0" ry="32.0" transform="rotate(18 174 103)"/>

</g></g>
<!--PARTS_END-->
</g>
</svg>
</body></html>
